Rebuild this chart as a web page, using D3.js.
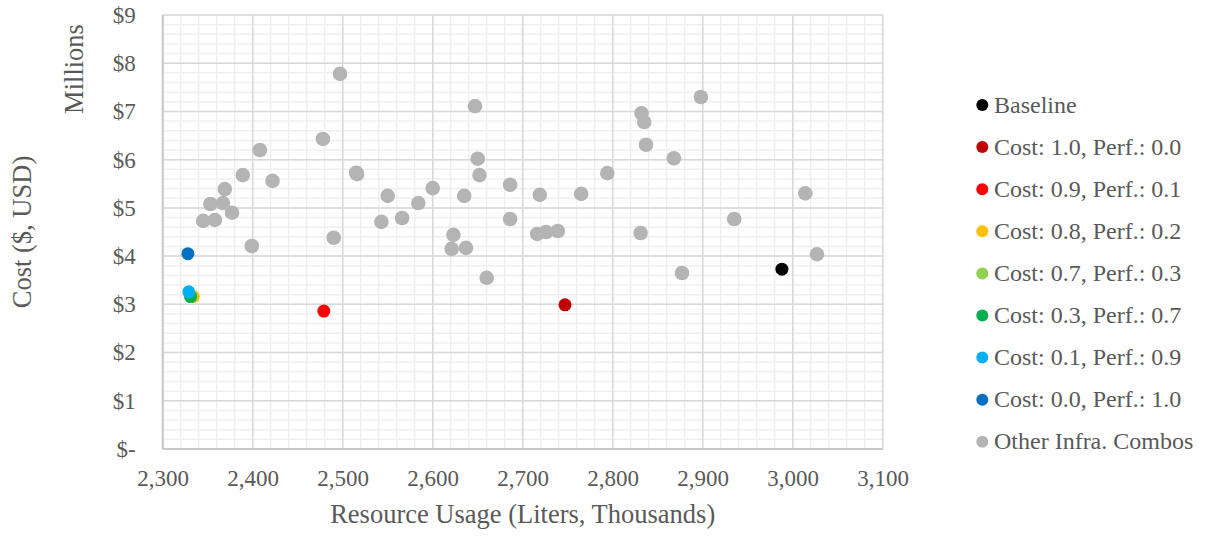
<!DOCTYPE html>
<html><head><meta charset="utf-8">
<script src="https://cdn.jsdelivr.net/npm/d3@7"></script>
<style>body{margin:0;background:#fff}svg{display:block}text{font-family:"Liberation Serif","Times New Roman",serif;fill:#595959}</style>
</head><body><svg id="c" width="1208" height="536"></svg>
<script>
const seriesNames = ["Baseline","Cost: 1.0, Perf.: 0.0","Cost: 0.9, Perf.: 0.1","Cost: 0.8, Perf.: 0.2","Cost: 0.7, Perf.: 0.3","Cost: 0.3, Perf.: 0.7","Cost: 0.1, Perf.: 0.9","Cost: 0.0, Perf.: 1.0","Other Infra. Combos"];
const seriesColors = ["#000000","#c00000","#ff0000","#ffc000","#92d050","#00b050","#00b0f0","#0070c0","#b4b4b4"];
// single-point series [resource (thousand L), cost ($M)]
const baseline = [[2988, 3.73]];
const cost10 = [[2747, 2.99]];
const cost09 = [[2479, 2.86]];
const cost08 = [[2334, 3.16]];
const cost07 = [[2331, 3.17]];
const cost03 = [[2331, 3.16]];
const cost01 = [[2329, 3.26]];
const cost00 = [[2328, 4.05]];
const otherX = [2497,2478,2408,2389,2422,2369,2367,2353,2377,2345,2358,2399,2515,2516,2550,2543,2566,2584,2600,2490,2647,2650,2652,2635,2623,2621,2637,2660,2686,2686,2719,2716,2726,2739,2765,2794,2832,2835,2837,2868,2831,2877,2898,2935,3014,3027];
const otherY = [7.78,6.43,6.20,5.68,5.56,5.39,5.10,5.08,4.90,4.73,4.75,4.21,5.73,5.70,5.25,4.71,4.79,5.10,5.41,4.38,7.11,6.02,5.68,5.25,4.44,4.15,4.17,3.55,5.48,4.77,5.27,4.46,4.50,4.52,5.29,5.72,6.96,6.78,6.31,6.03,4.48,3.65,7.30,4.77,5.30,4.04];
const xTicks = [2300,2400,2500,2600,2700,2800,2900,3000,3100];
const yTicks = [0,1,2,3,4,5,6,7,8,9];
const yTickLabels = ["$-","$1","$2","$3","$4","$5","$6","$7","$8","$9"];

const svg = d3.select("#c");
const L=162.7,R=882.7,T=15,B=449;
const x = d3.scaleLinear().domain([2300,3100]).range([L,R]);
const y = d3.scaleLinear().domain([0,9]).range([B,T]);

// minor grid
const xMinor = d3.range(2300,3100.1,20), yMinor = d3.range(0,9.001,0.2);
svg.append("g").selectAll("line").data(xMinor).join("line")
  .attr("x1",d=>x(d)).attr("x2",d=>x(d)).attr("y1",T).attr("y2",B).attr("stroke","#f0f0f0").attr("stroke-width",1.5);
svg.append("g").selectAll("line").data(yMinor).join("line")
  .attr("x1",L).attr("x2",R).attr("y1",d=>y(d)).attr("y2",d=>y(d)).attr("stroke","#f0f0f0").attr("stroke-width",1.5);
// major grid
svg.append("g").selectAll("line").data(xTicks).join("line")
  .attr("x1",d=>x(d)).attr("x2",d=>x(d)).attr("y1",T).attr("y2",B).attr("stroke","#d9d9d9").attr("stroke-width",1.5);
svg.append("g").selectAll("line").data(yTicks).join("line")
  .attr("x1",L).attr("x2",R).attr("y1",d=>y(d)).attr("y2",d=>y(d)).attr("stroke","#d9d9d9").attr("stroke-width",1.5);
// axes lines
svg.append("line").attr("x1",L).attr("x2",L).attr("y1",T).attr("y2",B).attr("stroke","#c8c8c8").attr("stroke-width",2);
svg.append("line").attr("x1",L).attr("x2",R).attr("y1",B).attr("y2",B).attr("stroke","#c8c8c8").attr("stroke-width",2);

// axes via d3
const xAxis = svg.append("g").attr("transform",`translate(0,${B})`)
  .call(d3.axisBottom(x).tickValues(xTicks).tickFormat(d3.format(",")).tickSize(0).tickPadding(21));
const yAxis = svg.append("g").attr("transform",`translate(${L},0)`)
  .call(d3.axisLeft(y).tickValues(yTicks).tickFormat((d,i)=>yTickLabels[i]).tickSize(0).tickPadding(27));
[xAxis,yAxis].forEach(g=>{g.select(".domain").remove();g.selectAll("text").attr("font-size",23).attr("fill","#595959").attr("font-family","Liberation Serif");});

// titles
svg.append("text").attr("x",(L+R)/2).attr("y",523).attr("text-anchor","middle").attr("font-size",26.5).text("Resource Usage (Liters, Thousands)");
svg.append("text").attr("transform","translate(31,232) rotate(-90)").attr("text-anchor","middle").attr("font-size",26.5).text("Cost ($, USD)");
svg.append("text").attr("transform","translate(83,69) rotate(-90)").attr("text-anchor","middle").attr("font-size",26.5).text("Millions");

// points
const other = otherX.map((v,i)=>[v,otherY[i]]);
svg.append("g").selectAll("circle").data(other).join("circle")
  .attr("cx",d=>x(d[0])).attr("cy",d=>y(d[1])).attr("r",7.3).attr("fill",seriesColors[8]);
const colored = [baseline,cost10,cost09,cost08,cost07,cost03,cost01,cost00];
colored.forEach((s,i)=>{
  svg.append("g").selectAll("circle").data(s).join("circle")
    .attr("cx",d=>x(d[0])).attr("cy",d=>y(d[1])).attr("r",6.5).attr("fill",seriesColors[i]);
});

// legend
const lg = svg.append("g");
seriesNames.forEach((n,i)=>{
  const yy = 105 + i*42.1;
  lg.append("circle").attr("cx",982.3).attr("cy",yy).attr("r",6).attr("fill",seriesColors[i]);
  lg.append("text").attr("x",994).attr("y",yy+7.5).attr("font-size",24).text(n);
});
</script></body></html>
